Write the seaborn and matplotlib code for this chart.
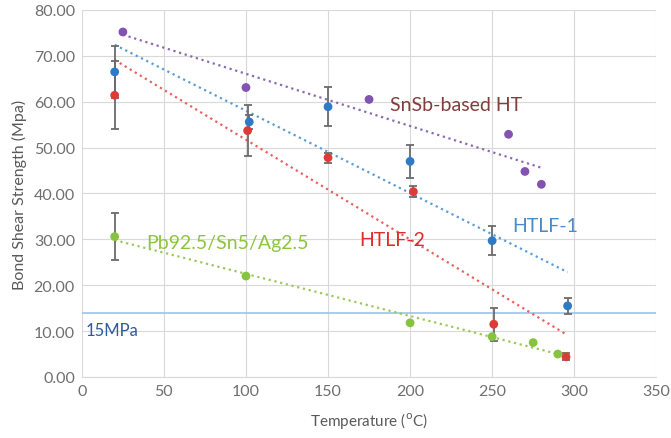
import matplotlib
matplotlib.use("Agg")
import matplotlib.pyplot as plt
import numpy as np
import pandas as pd
import seaborn as sns

# values
htlf1_temp = [20, 102, 150, 200, 250, 296]
htlf1_mpa = [66.5, 55.6, 58.9, 47.0, 29.7, 15.5]
htlf1_err = [5.6, 1.5, 4.3, 3.6, 3.2, 1.8]

htlf2_temp = [20, 101, 150, 202, 251, 295]
htlf2_mpa = [61.4, 53.7, 47.8, 40.4, 11.5, 4.4]
htlf2_err = [7.4, 5.6, 1.1, 1.2, 3.6, 0.8]

snsb_temp = [25, 100, 175, 260, 270, 280]
snsb_mpa = [75.2, 63.1, 60.5, 52.9, 44.8, 42.0]

pb_temp = [20, 100, 200, 250, 275, 290]
pb_mpa = [30.6, 22.0, 11.8, 8.8, 7.5, 5.0]
pb_err = [5.2, 0, 0, 0, 0, 0]

threshold_mpa = 14.0

series = [
    ("HTLF-1", htlf1_temp, htlf1_mpa, htlf1_err, "#2f7ac4", "#5b9bd5"),
    ("HTLF-2", htlf2_temp, htlf2_mpa, htlf2_err, "#df3b36", "#e8605c"),
    ("SnSb-based HT", snsb_temp, snsb_mpa, None, "#8253b0", "#8a6bb0"),
    ("Pb92.5/Sn5/Ag2.5", pb_temp, pb_mpa, pb_err, "#86c440", "#9cc85a"),
]

sns.set_style("whitegrid", {"grid.color": "#d9d9d9"})
plt.rcParams["font.family"] = ["Lato", "DejaVu Sans"]

fig = plt.figure(figsize=(6.71, 4.39), dpi=100)
ax = fig.add_axes([0.122, 0.139, 0.856, 0.836])

ax.axhline(threshold_mpa, color="#9dc3e6", lw=1.2, zorder=1)

for name, temp, mpa, err, color, trend_color in series:
    df = pd.DataFrame({"temp": temp, "mpa": mpa})
    sns.regplot(data=df, x="temp", y="mpa", ax=ax, scatter=False, ci=None,
                line_kws={"color": trend_color, "ls": ":", "lw": 1.6, "zorder": 2})
    if err is not None:
        ax.errorbar(temp, mpa, yerr=err, fmt="none", ecolor="#6b6b6b",
                    elinewidth=1.3, capsize=3, capthick=1.3, zorder=3)
    sns.scatterplot(data=df, x="temp", y="mpa", ax=ax, color=color, s=40,
                    edgecolor="none", zorder=4)

ax.text(188, 59.5, "SnSb-based HT", color="#843c3c", fontsize=14, va="center")
ax.text(262, 33.1, "HTLF-1", color="#4a8ac7", fontsize=14, va="center")
ax.text(169, 30.0, "HTLF-2", color="#e02b2b", fontsize=14, va="center")
ax.text(39, 29.3, "Pb92.5/Sn5/Ag2.5", color="#8cc63f", fontsize=14, va="center")
ax.text(2, 10.2, "15MPa", color="#2e5b9a", fontsize=12, va="center")

ax.set_xlim(0, 350)
ax.set_ylim(0, 80)
ax.set_xticks(np.arange(0, 351, 50))
ax.set_yticks(np.arange(0, 81, 10))
ax.set_yticklabels([f"{v:.2f}" for v in np.arange(0, 81, 10)])
ax.tick_params(colors="#6f6f6f", labelsize=11.5, length=0, pad=5)
ax.set_xlabel("Temperature ($^{\\rm o}$C)", color="#595959", fontsize=11, labelpad=9)
ax.set_ylabel("Bond Shear Strength (Mpa)", color="#595959", fontsize=11.5, labelpad=5)
for side in ["top", "right", "left"]:
    ax.spines[side].set_visible(False)
ax.spines["bottom"].set_color("#d9d9d9")

fig.savefig("out.png", dpi=100)
